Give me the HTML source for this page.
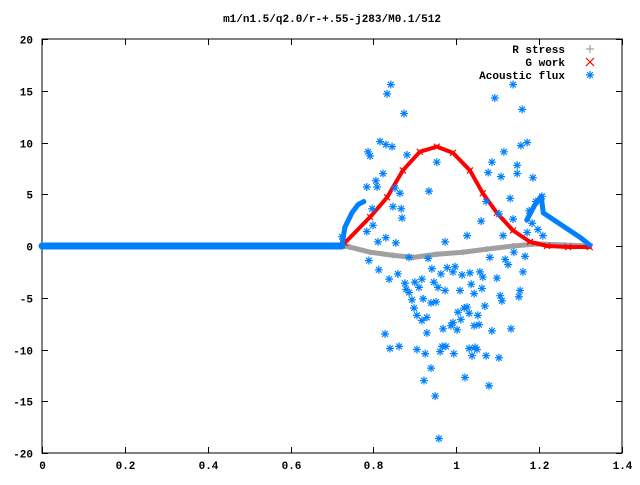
<!DOCTYPE html>
<html><head><meta charset="utf-8"><style>
body{margin:0;background:#fff;}
svg text{font-family:"Liberation Mono",monospace;font-size:11px;font-weight:bold;fill:#000;}
</style></head><body>
<svg id="chart" width="640" height="480" xmlns="http://www.w3.org/2000/svg">
<rect x="0" y="0" width="640" height="480" fill="#fff"/>
<text x="332" y="22" text-anchor="middle">m1/n1.5/q2.0/r-+.55-j283/M0.1/512</text>
<g id="axes"></g>
<g id="series"></g>
<g id="legend"></g>
</svg>
<script>
const xTicks=[0,0.2,0.4,0.6,0.8,1,1.2,1.4];
const xTickLabels=["0","0.2","0.4","0.6","0.8","1","1.2","1.4"];
const yTicks=[-20,-15,-10,-5,0,5,10,15,20];
const yTickLabels=["-20","-15","-10","-5","0","5","10","15","20"];
const rStressX=[0,0.73,0.743,0.792,0.847,0.896,0.953,1.016,1.074,1.137,1.195,1.26,1.322];
const rStressY=[0,0,-0.1,-0.6,-0.9,-1.1,-0.8,-0.6,-0.3,0,0.2,0.1,0];
const gWorkX=[0.731,0.792,0.833,0.871,0.912,0.953,0.992,1.033,1.064,1.098,1.137,1.178,1.219,1.27,1.322];
const gWorkY=[0.3,2.8,4.7,7.3,9.1,9.6,9.0,7.3,5.1,3.2,1.5,0.4,0,-0.1,-0.1];
const fluxBaseX=[0,0.724];
const fluxBaseY=[0,0];
const fluxLeftX=[0.724,0.731,0.748,0.763,0.777];
const fluxLeftY=[0,1.8,3.2,4.0,4.3];
const fluxRightX=[1.17,1.19,1.205,1.21,1.24,1.27,1.30,1.322];
const fluxRightY=[2.5,4.0,4.8,3.2,2.4,1.6,0.8,0.1];
const fluxScatX=[0.842,0.833,0.874,1.137,1.093,1.159,0.816,0.830,0.845,0.787,0.792,0.881,0.953,1.115,1.156,1.171,1.086,1.147,1.077,1.108,1.147,1.185,0.823,0.806,0.809,0.784,0.852,0.864,0.934,1.130,1.072,0.847,0.867,0.869,1.060,1.103,1.137,0.797,0.799,0.784,1.026,1.113,1.171,1.209,1.197,1.176,1.183,1.207,1.192,0.811,0.830,0.854,0.973,0.724,
0.789,0.813,0.838,0.859,0.886,0.932,0.941,0.963,0.978,0.997,0.992,1.014,1.033,1.057,1.064,1.098,1.081,1.118,1.125,1.161,1.139,1.166,0.876,0.900,0.917,0.879,0.910,0.886,0.893,0.946,0.956,0.973,1.009,1.036,1.043,1.062,1.106,1.110,1.154,1.151,0.920,0.939,0.951,0.898,0.905,0.917,0.929,1.004,1.019,1.026,1.031,1.052,1.069,1.011,0.992,0.987,1.002,0.968,1.043,1.055,1.086,1.132,0.929,0.828,0.840,0.862,0.905,0.925,0.966,0.975,0.961,0.994,1.031,1.045,1.050,1.038,1.072,1.103,0.939,0.922,1.021,1.079,0.949,0.958];
const fluxScatY=[15.6,14.7,12.8,15.6,14.3,13.2,10.1,9.8,9.6,9.1,8.7,8.8,8.1,9.1,9.7,10.0,8.1,7.8,7.1,6.7,7.0,6.6,7.0,6.3,5.7,5.7,5.6,5.1,5.3,4.6,4.3,3.8,3.6,2.7,2.4,3.1,2.6,3.6,2.0,1.4,1.0,1.0,1.3,1.0,1.6,3.4,2.2,4.8,4.3,0.4,0.8,0.3,0.4,0.9,
-1.4,-2.3,-3.2,-2.7,-1.1,-1.2,-2.2,-2.7,-2.1,-2.0,-2.5,-2.8,-2.6,-2.5,-3.0,-3.1,-1.1,-1.3,-1.8,-2.5,-0.6,-1.0,-3.6,-3.5,-3.2,-4.2,-4.0,-4.5,-5.2,-3.5,-4.0,-4.3,-4.3,-3.7,-4.6,-4.1,-4.8,-5.3,-4.3,-4.9,-5.1,-5.5,-5.4,-6.0,-6.7,-7.2,-6.9,-6.4,-6.0,-5.9,-6.5,-6.7,-5.8,-7.1,-7.4,-7.7,-8.1,-8.0,-7.7,-7.6,-8.2,-8.0,-8.4,-8.5,-9.9,-9.7,-10.0,-10.4,-9.7,-9.7,-10.2,-10.4,-9.9,-9.8,-10.0,-10.6,-10.6,-10.8,-11.8,-13.0,-12.7,-13.5,-14.5,-18.6];

const L=42,R=622,T=39,B=453;
const xS=v=>L+(v-0)/1.4*(R-L);
const yS=v=>B-(v+20)/40*(B-T);
const NS="http://www.w3.org/2000/svg";
function mk(tag,attrs,parent){const e=document.createElementNS(NS,tag);for(const k in attrs)e.setAttribute(k,attrs[k]);parent.appendChild(e);return e;}
const axes=document.getElementById('axes');
const ser=document.getElementById('series');
const leg=document.getElementById('legend');

const frame=mk('rect',{x:L,y:T,width:R-L,height:B-T,fill:'none',stroke:'#000','stroke-width':1},axes);


xTicks.forEach((v,i)=>{
  const x=Math.round(xS(v))+0.5;
  const t=mk('path',{d:`M${x} ${B}v-6M${x} ${T}v6`,stroke:'#000','stroke-width':1},axes);
  
  
  const lb=mk('text',{x:x,y:B+16,'text-anchor':'middle'},axes);
  lb.textContent=xTickLabels[i];
  
  
});
yTicks.forEach((v,i)=>{
  const y=Math.round(yS(v))+0.5;
  const t=mk('path',{d:`M${L} ${y}h6M${R} ${y}h-6`,stroke:'#000','stroke-width':1},axes);
  
  
  const lb=mk('text',{x:L-9,y:y+4,'text-anchor':'end'},axes);
  lb.textContent=yTickLabels[i];
  
  
});

function plus(x,y,c,g,s){return mk('path',{d:`M${x-s} ${y}h${2*s}M${x} ${y-s}v${2*s}`,stroke:c,'stroke-width':1.2,fill:'none'},g);}
function cross(x,y,c,g,s){return mk('path',{d:`M${x-s} ${y-s}l${2*s} ${2*s}M${x-s} ${y+s}l${2*s} ${-2*s}`,stroke:c,'stroke-width':1.2,fill:'none'},g);}
function star(x,y,c,g,s){const d=s*0.72;return mk('path',{d:`M${x-s} ${y}h${2*s}M${x} ${y-s}v${2*s}M${x-d} ${y-d}l${2*d} ${2*d}M${x-d} ${y+d}l${2*d} ${-2*d}`,stroke:c,'stroke-width':1.2,fill:'none'},g);}
function band(xs,ys,c,w,g,name){
  const p=mk('polyline',{points:xs.map((v,i)=>xS(v)+','+yS(ys[i])).join(' '),fill:'none',stroke:c,'stroke-width':w,'stroke-linejoin':'round','stroke-linecap':'round'},g);
  
  
}
const gray='#a0a0a0',red='#ff0000',blue='#0080ff';
band(rStressX,rStressY,gray,5,ser,'r-stress-series');
rStressX.forEach((v,i)=>{const m=plus(xS(v),yS(rStressY[i]),gray,ser,3);
  
  });
band(gWorkX,gWorkY,red,4,ser,'g-work-series');
gWorkX.forEach((v,i)=>{const m=cross(xS(v),yS(gWorkY[i]),red,ser,3);
  
  });
band(fluxBaseX,fluxBaseY,blue,7,ser,'acoustic-flux-baseline');
band(fluxLeftX,fluxLeftY,blue,5,ser,'acoustic-flux-left-lobe');
band(fluxRightX,fluxRightY,blue,5,ser,'acoustic-flux-right-lobe');
fluxScatX.forEach((v,i)=>{const m=star(xS(v),yS(fluxScatY[i]),blue,ser,4);
  
  });

const legItems=[["R stress",gray,plus],["G work",red,cross],["Acoustic flux",blue,star]];
legItems.forEach((it,i)=>{
  const y=49+i*13;
  const t=mk('text',{x:565,y:y+4,'text-anchor':'end'},leg);
  t.textContent=it[0];
  
  
  const m=it[2](590,y,it[1],leg,4);
  
  
});
</script>
</body></html>
